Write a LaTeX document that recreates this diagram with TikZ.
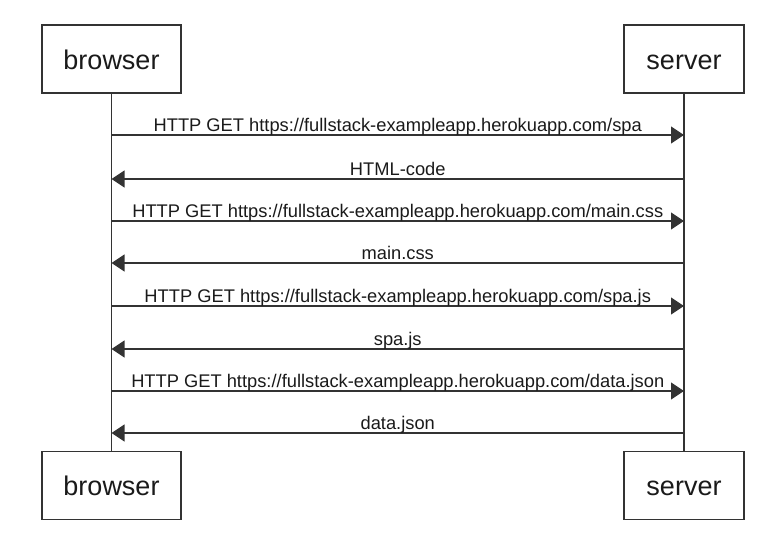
\documentclass[tikz,border=0pt]{standalone}
\usepackage{fontspec}
\setmainfont{Liberation Sans}
\usetikzlibrary{arrows.meta}
\definecolor{linec}{HTML}{333333}
\definecolor{textc}{HTML}{1A1A1A}
\begin{document}
\begin{tikzpicture}[x=1pt,y=-1pt,
  actor/.style={draw=linec, line width=1.4pt, minimum height=68pt, inner sep=0pt,
    text height=20pt, text depth=0pt,
    text=textc, font=\fontsize{27}{30}\selectfont},
  life/.style={draw=linec, line width=1.3pt},
  msg/.style={draw=linec, line width=1.3pt, -{Triangle[length=13pt,width=17pt]}},
  lbl/.style={anchor=base, yshift=4pt, inner sep=0pt, text=textc,
    font=\fontsize{18.3}{21}\selectfont}]
\useasboundingbox (0,0) rectangle (764,536);
% actors
\node[actor, minimum width=139pt] (bt) at (111.5,59) {browser};
\node[actor, minimum width=120pt] (st) at (684,59) {server};
\node[actor, minimum width=139pt] (bb) at (111.5,485.5) {browser};
\node[actor, minimum width=120pt] (sb) at (684,485.5) {server};
% lifelines
\draw[life] (bt.south) -- (bb.north);
\draw[life] (st.south) -- (sb.north);
% message end points
\foreach \yy [count=\i] in {135,179,221,263,306,349,391,433} {
  \coordinate (b\i) at (bt.south |- 0,\yy);
  \coordinate (s\i) at (st.south |- 0,\yy);
}
% messages
\draw[msg] (b1) -- node[lbl] {HTTP GET https://fullstack-exampleapp.herokuapp.com/spa} (s1);
\draw[msg] (s2) -- node[lbl] {HTML-code} (b2);
\draw[msg] (b3) -- node[lbl] {HTTP GET https://fullstack-exampleapp.herokuapp.com/main.css} (s3);
\draw[msg] (s4) -- node[lbl] {main.css} (b4);
\draw[msg] (b5) -- node[lbl] {HTTP GET https://fullstack-exampleapp.herokuapp.com/spa.js} (s5);
\draw[msg] (s6) -- node[lbl] {spa.js} (b6);
\draw[msg] (b7) -- node[lbl] {HTTP GET https://fullstack-exampleapp.herokuapp.com/data.json} (s7);
\draw[msg] (s8) -- node[lbl] {data.json} (b8);
\end{tikzpicture}
\end{document}
